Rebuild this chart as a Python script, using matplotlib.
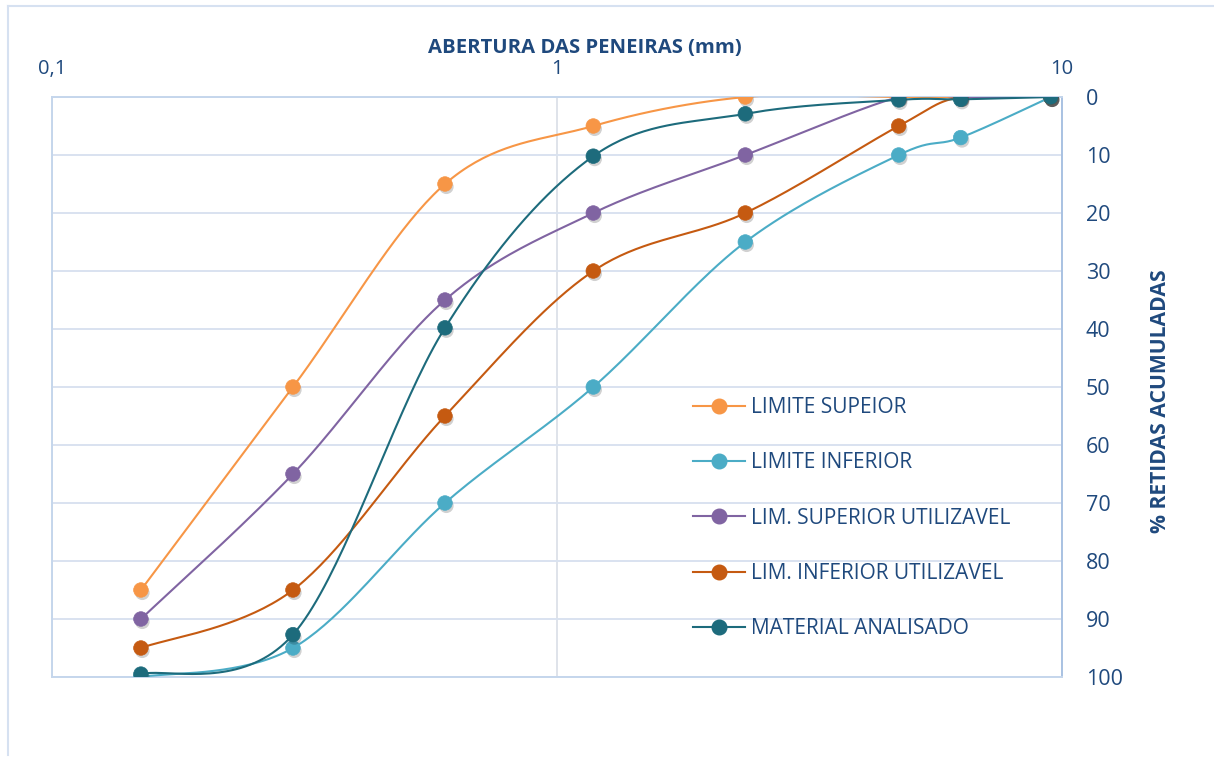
import numpy as np
import matplotlib
matplotlib.use("Agg")
import matplotlib.pyplot as plt
from matplotlib import patheffects as pe
from matplotlib.lines import Line2D

# ---- data ----
sieves = [0.15, 0.3, 0.6, 1.18, 2.36, 4.75, 6.3, 9.5]
lim_sup = [85, 50, 15, 5, 0, 0, 0, 0]
lim_inf = [100, 95, 70, 50, 25, 10, 7, 0]
lim_sup_util = [90, 65, 35, 20, 10, 0, 0, 0]
lim_inf_util = [95, 85, 55, 30, 20, 5, 0, 0]
material = [99.5, 92.7, 39.8, 10.2, 2.9, 0.5, 0.4, 0]

labels = ["LIMITE SUPEIOR", "LIMITE INFERIOR", "LIM. SUPERIOR UTILIZAVEL",
          "LIM. INFERIOR UTILIZAVEL", "MATERIAL ANALISADO"]
colors = ["#F79646", "#4BACC6", "#8064A2", "#C55A11", "#1D6B7C"]
series = [lim_sup, lim_inf, lim_sup_util, lim_inf_util, material]

x_ticks = [0.1, 1, 10]
x_ticklabels = ["0,1", "1", "10"]
y_ticks = list(range(0, 101, 10))

TXT = "#1F497D"
FONT = "Open Sans"
W, H = 1214, 758


def smooth(xs, ys, n=40):
    """Excel-like smoothed curve (Catmull-Rom Bezier) in (log10 x, y) space."""
    lx = np.log10(np.asarray(xs, float))
    yy = np.asarray(ys, float)
    P = np.column_stack([lx, yy])
    m = len(P)
    out = [P[0]]
    t = np.linspace(0, 1, n)[1:]
    for i in range(m - 1):
        p0 = P[i - 1] if i > 0 else P[i]
        p1 = P[i]
        p2 = P[i + 1]
        p3 = P[i + 2] if i + 2 < m else P[i + 1]
        c1 = p1 + (p2 - p0) / 6.0
        c2 = p2 - (p3 - p1) / 6.0
        seg = ((1 - t) ** 3)[:, None] * p1 + (3 * (1 - t) ** 2 * t)[:, None] * c1 \
            + (3 * (1 - t) * t ** 2)[:, None] * c2 + (t ** 3)[:, None] * p2
        out.extend(seg)
    out = np.array(out)
    return 10 ** out[:, 0], out[:, 1]


fig = plt.figure(figsize=(W / 100, H / 100), dpi=100)
ax = fig.add_axes([52 / W, 1 - 677 / H, (1062 - 52) / W, (677 - 97) / H])

ax.set_xscale("log")
ax.set_xlim(0.1, 10)
ax.set_ylim(100, 0)

shadow = [pe.SimplePatchShadow(offset=(1, -2), shadow_rgbFace="black", alpha=0.18), pe.Normal()]

for i, (vals, col) in enumerate(zip(series, colors)):
    sx, sy = smooth(sieves, vals)
    ax.plot(sx, sy, color=col, lw=1.5, zorder=3 + i * 2, solid_capstyle="round")
    ax.plot(sieves, vals, linestyle="none", marker="o", markersize=10.5,
            markerfacecolor=col, markeredgecolor=col, markeredgewidth=0.5,
            zorder=4 + i * 2, path_effects=shadow)

# axes on top / right
ax.xaxis.tick_top()
ax.yaxis.tick_right()
ax.set_xticks(x_ticks)
ax.set_xticklabels(x_ticklabels)
ax.xaxis.set_minor_locator(matplotlib.ticker.NullLocator())
ax.set_yticks(y_ticks)
ax.tick_params(axis="x", length=0, labelsize=14.5, labelcolor=TXT, pad=13)
ax.tick_params(axis="y", length=0, labelsize=15.5, labelcolor=TXT, pad=17)
for lab in ax.get_xticklabels() + ax.get_yticklabels():
    lab.set_fontfamily(FONT)

ax.grid(axis="y", color="#D9E2F0", lw=1.4, zorder=0)
ax.grid(axis="x", which="major", color="#D9DEE6", lw=1.2, zorder=0)
for s in ax.spines.values():
    s.set_color("#C5D6EC")
    s.set_linewidth(1.4)
ax.spines["right"].set_color("#A9C2E2")

fig.text(585 / W, 1 - 48 / H, "ABERTURA DAS PENEIRAS (mm)", fontsize=14.6, fontweight="bold",
         color=TXT, family=FONT, ha="center", va="center")
fig.text(1160 / W, 1 - 401 / H, "% RETIDAS ACUMULADAS", fontsize=15.2, fontweight="bold",
         color=TXT, family=FONT, ha="center", va="center", rotation=90)

handles = [Line2D([0], [0], color=c, lw=1.5, marker="o", markersize=10.5,
                  markerfacecolor=c, markeredgecolor=c) for c in colors]
leg = ax.legend(handles, labels, loc="upper left",
                bbox_to_anchor=(693 / W, 1 - 397 / H), bbox_transform=fig.transFigure,
                frameon=False, prop={"family": FONT, "size": 15},
                handlelength=2.5, handletextpad=0.3, labelspacing=1.65,
                borderpad=0, borderaxespad=0)
for t in leg.get_texts():
    t.set_color(TXT)

# outer chart border
fig.add_artist(Line2D([8 / W, 8 / W], [1 - 6 / H, 1 - 755 / H],
                      transform=fig.transFigure, color="#D6E1F1", lw=1.5))
fig.add_artist(Line2D([8 / W, 1.0], [1 - 6 / H, 1 - 6 / H],
                      transform=fig.transFigure, color="#D6E1F1", lw=1.5))

fig.savefig("out.png", dpi=100)
